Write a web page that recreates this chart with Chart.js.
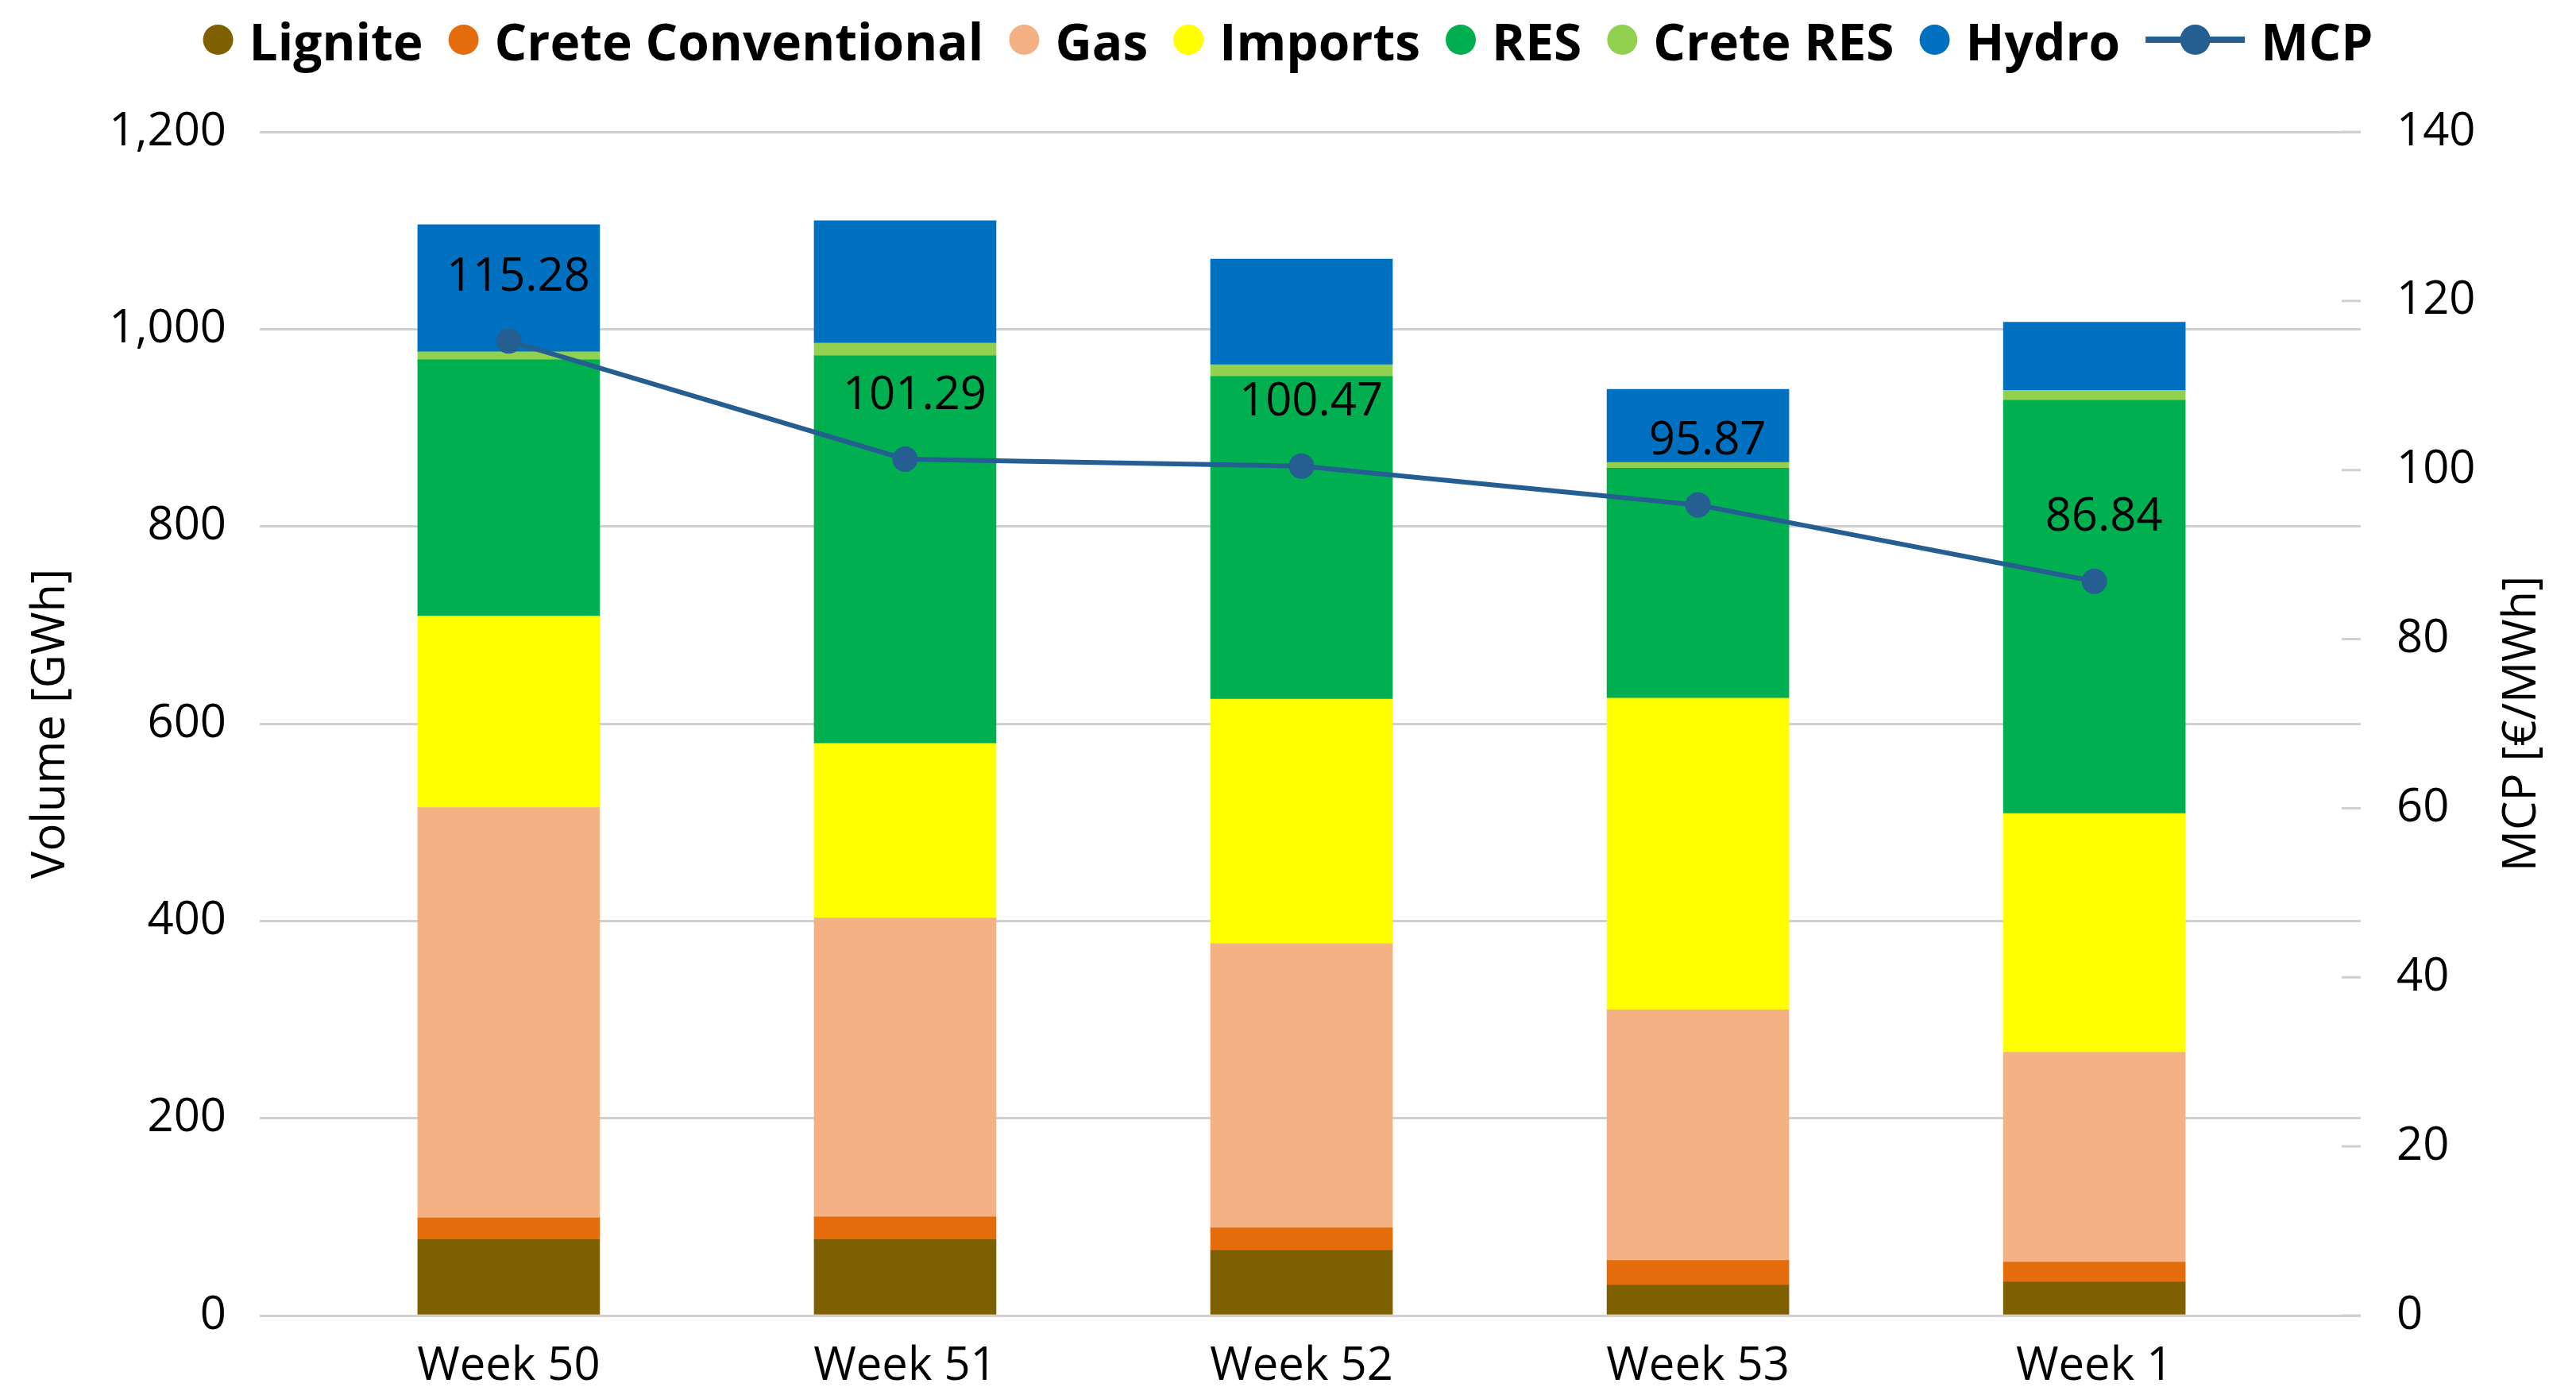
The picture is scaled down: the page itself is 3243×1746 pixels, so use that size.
<!DOCTYPE html>
<html>
<head>
<meta charset="utf-8">
<script src="https://cdn.jsdelivr.net/npm/chart.js@4.4.1/dist/chart.umd.min.js"></script>
<style>
  html, body { margin: 0; padding: 0; background: #fff; }
  canvas { display: block; }
</style>
</head>
<body>
<canvas id="graficoVolumes" width="3243" height="1746"></canvas>
<script>
// Dados
const semanas = ['Week 50', 'Week 51', 'Week 52', 'Week 53', 'Week 1'];
const lignite = [77, 77, 66, 31, 34];
const creteConventional = [22, 23, 23, 25, 20];
const gas = [416, 303, 288, 254, 213];
const imports = [194, 177, 248, 316, 242];
const res = [260, 393, 327, 233, 419];
const creteRes = [8, 13, 12, 6, 10];
const hydro = [129, 124, 107, 74, 69];
const mcp = [115.28, 101.29, 100.47, 95.87, 86.84];

const FONTE = '"Open Sans", sans-serif';
const TAM = 58;

Chart.defaults.font.family = FONTE;
Chart.defaults.font.size = TAM;
Chart.defaults.color = '#000';

// semana i -> ponto {x: i, y: valor}
function pontos(valores) {
    return valores.map((v, i) => ({ x: i, y: v }));
}

function barra(label, valores, cor) {
    return {
        type: 'bar',
        label: label,
        data: pontos(valores),
        backgroundColor: cor,
        borderWidth: 0,
        barThickness: 229,
        yAxisID: 'y',
        order: 1
    };
}

const datasets = [
    barra('Lignite', lignite, '#7F6000'),
    barra('Crete Conventional', creteConventional, '#E46C0A'),
    barra('Gas', gas, '#F4B183'),
    barra('Imports', imports, '#FFFF00'),
    barra('RES', res, '#00B050'),
    barra('Crete RES', creteRes, '#92D050'),
    barra('Hydro', hydro, '#0070C0'),
    {
        type: 'line',
        label: 'MCP',
        data: pontos(mcp),
        borderColor: '#255E91',
        backgroundColor: '#255E91',
        borderWidth: 6,
        pointRadius: 16,
        pointBorderWidth: 0,
        pointBackgroundColor: '#255E91',
        tension: 0,
        yAxisID: 'y2',
        order: 0
    }
];

// Legenda, títulos dos eixos, rótulos do MCP e marcas do eixo secundário
const extras = {
    id: 'extras',
    afterDraw(chart) {
        const ctx = chart.ctx;
        const area = chart.chartArea;
        ctx.save();

        // marcas internas do eixo secundário
        const y2 = chart.scales.y2;
        ctx.strokeStyle = '#D0D0D0';
        ctx.lineWidth = 3;
        y2.ticks.forEach(t => {
            const y = y2.getPixelForValue(t.value);
            ctx.beginPath();
            ctx.moveTo(area.right - 24, y);
            ctx.lineTo(area.right, y);
            ctx.stroke();
        });

        // rótulos do MCP
        const meta = chart.getDatasetMeta(7);
        ctx.fillStyle = '#000';
        ctx.font = TAM + 'px ' + FONTE;
        ctx.textAlign = 'center';
        ctx.textBaseline = 'middle';
        meta.data.forEach((pt, i) => {
            ctx.fillText(mcp[i].toFixed(2), pt.x + 12, pt.y - 80);
        });

        // títulos dos eixos
        const meioY = (area.top + area.bottom) / 2;
        [[64, 'Volume [GWh]'], [3175, 'MCP [€/MWh]']].forEach(([x, texto]) => {
            ctx.save();
            ctx.translate(x, meioY);
            ctx.rotate(-Math.PI / 2);
            ctx.fillText(texto, 0, 0);
            ctx.restore();
        });

        // legenda
        ctx.font = 'bold 64px ' + FONTE;
        ctx.textAlign = 'left';
        const itens = chart.data.datasets.map(ds => ({
            texto: ds.label,
            cor: ds.type === 'line' ? ds.borderColor : ds.backgroundColor,
            linha: ds.type === 'line',
            largMarca: ds.type === 'line' ? 125 : 38,
            largTexto: ctx.measureText(ds.label).width
        }));
        const gapTexto = 20, gapItem = 32;
        let total = 0;
        itens.forEach((it, i) => {
            total += it.largMarca + gapTexto + it.largTexto + (i ? gapItem : 0);
        });
        let x = (chart.width - total) / 2;
        const yMarca = 50, yTexto = 58;
        itens.forEach(it => {
            ctx.fillStyle = it.cor;
            if (it.linha) {
                ctx.fillRect(x, yMarca - 4, it.largMarca, 8);
            }
            ctx.beginPath();
            ctx.arc(x + it.largMarca / 2, yMarca, 19, 0, Math.PI * 2);
            ctx.fill();
            x += it.largMarca + gapTexto;
            ctx.fillStyle = '#000';
            ctx.fillText(it.texto, x, yTexto);
            x += it.largTexto + gapItem;
        });

        ctx.restore();
    }
};

new Chart(document.getElementById('graficoVolumes'), {
    data: { datasets: datasets },
    options: {
        responsive: false,
        animation: false,
        devicePixelRatio: 1,
        layout: { padding: { top: 166, left: 0, right: 0, bottom: 0 } },
        plugins: {
            legend: { display: false },
            tooltip: { enabled: false }
        },
        scales: {
            x: {
                type: 'linear',
                stacked: true,
                offset: false,
                min: -0.628,
                max: 4.672,
                grid: { display: false, drawTicks: false, offset: false },
                border: { display: false },
                ticks: {
                    stepSize: 1,
                    includeBounds: false,
                    autoSkip: false,
                    maxRotation: 0,
                    padding: 30,
                    callback: (v) => semanas[v] ?? ''
                },
                afterFit: (scale) => { scale.height = 90; }
            },
            y: {
                position: 'left',
                stacked: true,
                min: 0,
                max: 1200,
                ticks: { stepSize: 200, padding: 42 },
                grid: { color: '#D0D0D0', lineWidth: 3, drawTicks: false },
                border: { display: false },
                afterFit: (scale) => { scale.width = 327; }
            },
            y2: {
                position: 'right',
                min: 0,
                max: 140,
                ticks: { stepSize: 20, padding: 45 },
                grid: { display: false, drawTicks: false },
                border: { display: false },
                afterFit: (scale) => { scale.width = 271; }
            }
        }
    },
    plugins: [extras]
});
</script>
</body>
</html>
